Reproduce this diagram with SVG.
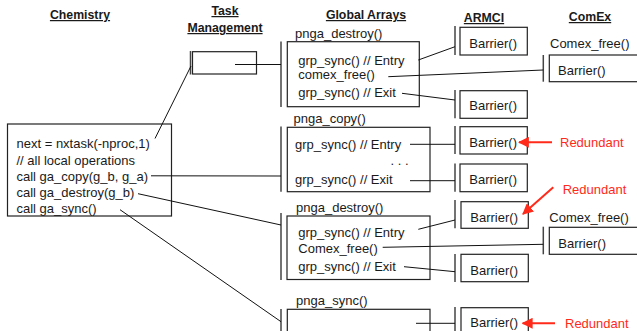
<svg xmlns="http://www.w3.org/2000/svg" width="637" height="331" viewBox="0 0 637 331">
<defs>
<style>
text{font-family:"Liberation Sans",Arial,sans-serif;font-size:13px;fill:#1a1a1a}
.h{font-size:12.3px;font-weight:bold;text-decoration:underline;text-anchor:middle}
.r{fill:#ff2a1a}
.box{fill:#fff;stroke:#222;stroke-width:1.2}
.bar{stroke:#444;stroke-width:1.5;fill:none}
.ln{stroke:#111;stroke-width:1;fill:none}
.ra{stroke:#ff2a1a;stroke-width:2;fill:none}
</style>
<marker id="ah" viewBox="0 0 10 10" refX="9" refY="5" markerWidth="5.5" markerHeight="5.5" orient="auto" markerUnits="strokeWidth">
<path d="M0,0 L10,5 L0,10 Z" fill="#ff2a1a"/>
</marker>
</defs>
<rect width="637" height="331" fill="#fff"/>

<g id="headings">
<text class="h" x="80" y="19">Chemistry</text>
<text class="h" x="225" y="15">Task</text>
<text class="h" x="225" y="32">Management</text>
<text class="h" x="366" y="19">Global Arrays</text>
<text class="h" x="484" y="22">ARMCI</text>
<text class="h" x="590" y="21">ComEx</text>
</g>

<g id="chemistry">
<rect class="box" x="7.5" y="124" width="164" height="92"/>
<text x="16.5" y="148">next = nxtask(-nproc,1)</text>
<text x="16.5" y="164.5">// all local operations</text>
<text x="16.5" y="180.5">call ga_copy(g_b, g_a)</text>
<text x="16.5" y="197">call ga_destroy(g_b)</text>
<text x="16.5" y="213">call ga_sync()</text>
</g>

<g id="task">
<line class="bar" x1="190.5" y1="51" x2="190.5" y2="74.5"/>
<rect class="box" x="192.5" y="51.7" width="64" height="22.3"/>
</g>

<g id="ga-destroy-1">
<line class="bar" x1="281" y1="41.5" x2="281" y2="107"/>
<text x="295" y="37.5">pnga_destroy()</text>
<rect class="box" x="287.3" y="41.7" width="132" height="65"/>
<text x="298.3" y="64.5">grp_sync() // Entry</text>
<text x="298.3" y="78.5">comex_free()</text>
<text x="298.3" y="96.5">grp_sync() // Exit</text>
</g>

<g id="ga-copy">
<line class="bar" x1="281" y1="126.5" x2="281" y2="191.7"/>
<text x="293.5" y="123">pnga_copy()</text>
<rect class="box" x="287.3" y="127.3" width="142.7" height="64.4"/>
<text x="295" y="149">grp_sync() // Entry</text>
<text x="399.5" y="165" text-anchor="middle">. . .</text>
<text x="295" y="183.5">grp_sync() // Exit</text>
</g>

<g id="ga-destroy-2">
<line class="bar" x1="281" y1="213" x2="281" y2="280"/>
<text x="296" y="211.5">pnga_destroy()</text>
<rect class="box" x="287" y="216" width="143" height="63.5"/>
<text x="298.3" y="237">grp_sync() // Entry</text>
<text x="298.3" y="253">Comex_free()</text>
<text x="298.3" y="270.5">grp_sync() // Exit</text>
</g>

<g id="ga-sync">
<line class="bar" x1="281" y1="309" x2="281" y2="332"/>
<text x="296" y="304.5">pnga_sync()</text>
<rect class="box" x="287.3" y="309.3" width="142.7" height="30"/>
</g>

<g id="armci-1">
<line class="bar" x1="455" y1="26" x2="455" y2="55"/>
<rect class="box" x="460" y="27.3" width="67.3" height="27.7"/>
<text x="469.3" y="47.5">Barrier()</text>
</g>
<g id="armci-2">
<line class="bar" x1="455" y1="90" x2="455" y2="118.3"/>
<rect class="box" x="460" y="90.7" width="67.3" height="27.6"/>
<text x="469.3" y="109.5">Barrier()</text>
</g>
<g id="armci-3">
<line class="bar" x1="455" y1="126" x2="455" y2="154"/>
<rect class="box" x="460" y="126.7" width="67.3" height="27.3"/>
<text x="469.3" y="147">Barrier()</text>
</g>
<g id="armci-4">
<line class="bar" x1="455" y1="163.5" x2="455" y2="191.7"/>
<rect class="box" x="460" y="164" width="67.3" height="27.7"/>
<text x="469.3" y="183.5">Barrier()</text>
</g>
<g id="armci-5">
<line class="bar" x1="455" y1="200" x2="455" y2="228.3"/>
<rect class="box" x="461" y="201.7" width="67.3" height="26.6"/>
<text x="470.3" y="221.5">Barrier()</text>
</g>
<g id="armci-6">
<line class="bar" x1="455" y1="254" x2="455" y2="282"/>
<rect class="box" x="461" y="254.3" width="67.3" height="27.4"/>
<text x="470.3" y="274.5">Barrier()</text>
</g>
<g id="armci-7">
<line class="bar" x1="455" y1="307" x2="455" y2="332"/>
<rect class="box" x="461" y="307.7" width="67.3" height="30"/>
<text x="470.3" y="326.5">Barrier()</text>
</g>

<g id="comex-1">
<text x="550" y="47.5">Comex_free()</text>
<line class="bar" x1="543.3" y1="55" x2="543.3" y2="81.7"/>
<rect class="box" x="549.3" y="55" width="95" height="26.7"/>
<text x="558" y="74.5">Barrier()</text>
</g>
<g id="comex-2">
<text x="549.3" y="222">Comex_free()</text>
<line class="bar" x1="543.3" y1="226.7" x2="543.3" y2="254.3"/>
<rect class="box" x="549.3" y="227.3" width="95" height="27"/>
<text x="558.3" y="247.5">Barrier()</text>
</g>

<g id="redundant-labels">
<text class="r" x="560" y="147">Redundant</text>
<text class="r" x="562.7" y="193.5">Redundant</text>
<text class="r" x="565" y="328">Redundant</text>
</g>

<g id="connectors">
<line class="ln" x1="155" y1="138.5" x2="191" y2="66"/>
<line class="ln" x1="235" y1="64.5" x2="281" y2="64.5"/>
<line class="ln" x1="418.3" y1="60" x2="455" y2="46.7"/>
<line class="ln" x1="388.3" y1="76.7" x2="543.3" y2="70"/>
<line class="ln" x1="402" y1="93.3" x2="455" y2="100"/>
<line class="ln" x1="151" y1="175.8" x2="281" y2="176"/>
<line class="ln" x1="138" y1="193.7" x2="281" y2="225"/>
<line class="ln" x1="120" y1="209.7" x2="281" y2="321.7"/>
<line class="ln" x1="410" y1="144.3" x2="455" y2="144.3"/>
<line class="ln" x1="410" y1="180.7" x2="455" y2="180.7"/>
<line class="ln" x1="418.3" y1="229.3" x2="455" y2="220"/>
<line class="ln" x1="382.7" y1="247.3" x2="543.3" y2="244.3"/>
<line class="ln" x1="404" y1="266.7" x2="455" y2="271.7"/>
<line class="ln" x1="416" y1="323.3" x2="455" y2="323.3"/>
<line class="ra" x1="552" y1="142.3" x2="519" y2="142.3" marker-end="url(#ah)"/>
<line class="ra" x1="553.3" y1="187.3" x2="523" y2="214" marker-end="url(#ah)"/>
<line class="ra" x1="555" y1="323.3" x2="522.7" y2="323.3" marker-end="url(#ah)"/>
</g>
</svg>
